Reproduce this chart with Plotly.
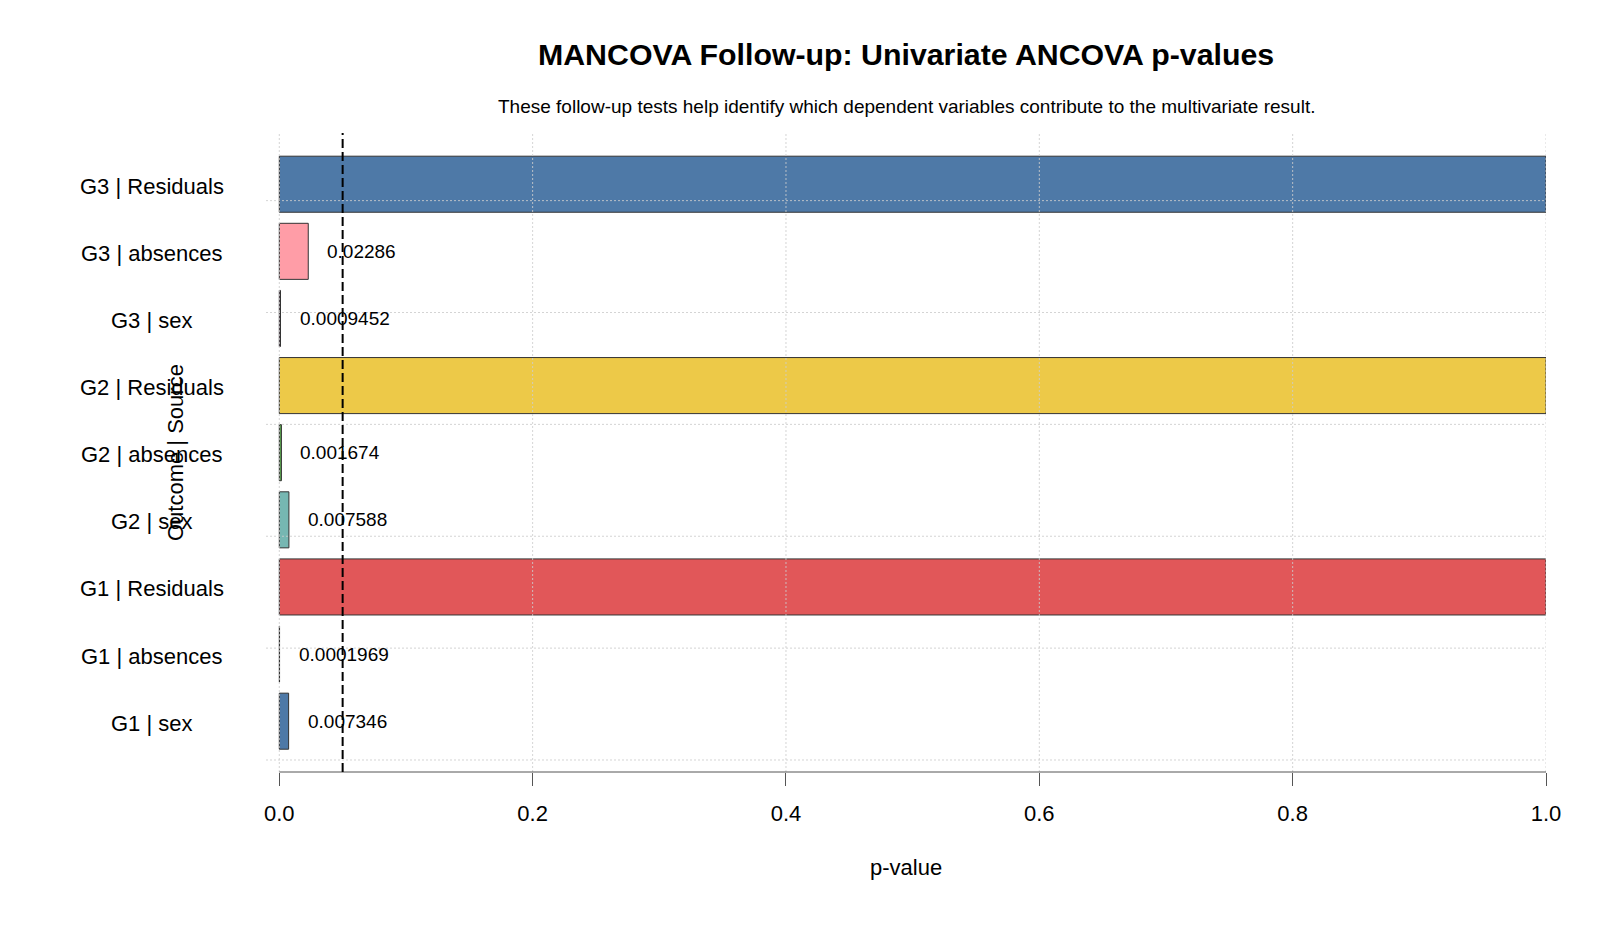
import plotly.graph_objects as go

# ---- data ----
categories = ["G1 | sex", "G1 | absences", "G1 | Residuals",
              "G2 | sex", "G2 | absences", "G2 | Residuals",
              "G3 | sex", "G3 | absences", "G3 | Residuals"]
p_values = [0.007346, 0.0001969, 1.0,
            0.007588, 0.001674, 1.0,
            0.0009452, 0.02286, 1.0]
value_labels = ["0.007346", "0.0001969", "",
                "0.007588", "0.001674", "",
                "0.0009452", "0.02286", ""]
bar_colors = ["#4E79A7", "#F28E2B", "#E15759",
              "#76B7B2", "#59A14F", "#EDC948",
              "#B07AA1", "#FF9DA7", "#4E79A7"]
x_tick_vals = [0.0, 0.2, 0.4, 0.6, 0.8, 1.0]
x_tick_text = ["0.0", "0.2", "0.4", "0.6", "0.8", "1.0"]
alpha_level = 0.05

FONT = "Liberation Sans, Arial, sans-serif"
GRID = "rgba(205,205,205,0.85)"

fig = go.Figure()
fig.add_trace(go.Bar(
    y=categories, x=p_values, orientation="h",
    marker=dict(color=bar_colors, line=dict(color="#333333", width=1)),
    showlegend=False, hoverinfo="x+y",
))

shapes = []
# vertical grid (above bars, as in the reference)
for v in x_tick_vals:
    shapes.append(dict(type="line", xref="x", yref="paper", x0=v, x1=v, y0=0, y1=1,
                       line=dict(color=GRID, width=1, dash="2px,2px"), layer="above"))
# horizontal grid (offset from categories, every 5/3 category units)
g0, gstep = -0.578, 5.0 / 3.0
for k in range(6):
    yv = g0 + k * gstep
    shapes.append(dict(type="line", xref="paper", yref="y", x0=0, x1=1, y0=yv, y1=yv,
                       line=dict(color=GRID, width=1, dash="2px,2px"), layer="above"))
# axis line from 0 to 1
shapes.append(dict(type="line", xref="x", yref="paper", x0=x_tick_vals[0], x1=x_tick_vals[-1],
                   y0=0, y1=0, line=dict(color="#555555", width=1), layer="above"))
# significance threshold
shapes.append(dict(type="line", xref="x", yref="paper", x0=alpha_level, x1=alpha_level,
                   y0=0, y1=1, line=dict(color="black", width=2, dash="9px,4px"), layer="above"))

annotations = []
for c, v, t in zip(categories, p_values, value_labels):
    # category labels (centred)
    annotations.append(dict(x=-0.0891, xref="paper", y=c, yref="y", text=c,
                            showarrow=False, xanchor="center", yanchor="middle", yshift=-2,
                            font=dict(size=22, color="black", family=FONT)))
    if t:
        annotations.append(dict(x=v, xref="x", y=c, yref="y", text=t, showarrow=False,
                                xanchor="left", yanchor="middle", xshift=17, yshift=0,
                                font=dict(size=19, color="black", family=FONT)))

annotations += [
    dict(x=0.5, xref="paper", y=1.1235, yref="paper", showarrow=False,
         text="<b>MANCOVA Follow-up: Univariate ANCOVA p-values</b>",
         xanchor="center", yanchor="middle", font=dict(size=30.3, color="black", family=FONT)),
    dict(x=0.5, xref="paper", y=1.042, yref="paper", showarrow=False,
         text="These follow-up tests help identify which dependent variables contribute to the multivariate result.",
         xanchor="center", yanchor="middle", font=dict(size=19, color="black", family=FONT)),
    dict(x=0.5, xref="paper", y=-0.1487, yref="paper", showarrow=False, text="p-value",
         xanchor="center", yanchor="middle", font=dict(size=22, color="black", family=FONT)),
    dict(x=-0.0707, xref="paper", y=0.5, yref="paper", showarrow=False, text="Outcome | Source",
         textangle=-90, xanchor="center", yanchor="middle",
         font=dict(size=22, color="black", family=FONT)),
]

fig.update_layout(
    width=1600, height=933,
    margin=dict(l=266, r=54, t=133, b=161, autoexpand=False),
    paper_bgcolor="white", plot_bgcolor="white",
    font=dict(family=FONT, size=22, color="black"),
    bargap=0.165,
    shapes=shapes, annotations=annotations,
    xaxis=dict(range=[-0.0105, 1.0], tickvals=x_tick_vals, ticktext=x_tick_text,
               showgrid=False, zeroline=False, showline=False,
               ticks="outside", ticklen=13, tickcolor="#555555", tickwidth=1,
               ticklabelstandoff=9, tickfont=dict(size=22, color="black")),
    yaxis=dict(type="category", categoryorder="array", categoryarray=categories,
               range=[-0.757, 8.763], showticklabels=False, showgrid=False,
               zeroline=False, showline=False, ticks=""),
)

fig.write_html("out.html")
